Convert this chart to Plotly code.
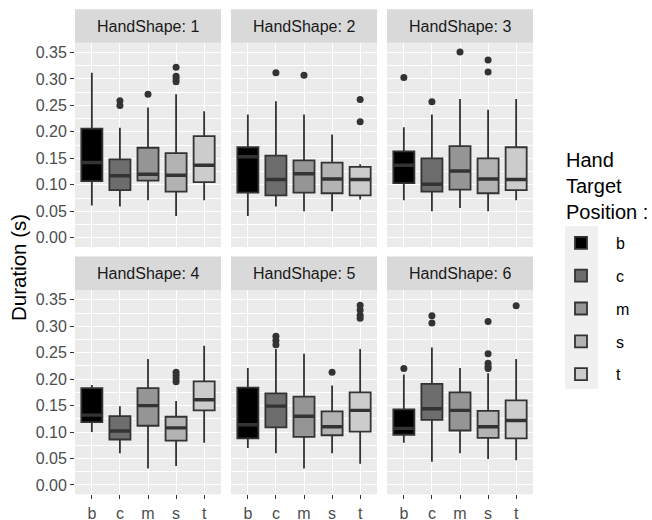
import plotly.graph_objects as go

cats = ["b", "c", "m", "s", "t"]
panels = ["HandShape: 1", "HandShape: 2", "HandShape: 3",
          "HandShape: 4", "HandShape: 5", "HandShape: 6"]
fills = ["#000000", "#6D6D6D", "#959595", "#B3B3B3", "#CCCCCC"]

lowerfence = [
    [0.061, 0.059, 0.071, 0.041, 0.071],
    [0.041, 0.059, 0.050, 0.050, 0.072],
    [0.071, 0.050, 0.056, 0.050, 0.071],
    [0.100, 0.060, 0.031, 0.036, 0.080],
    [0.070, 0.060, 0.031, 0.060, 0.040],
    [0.080, 0.044, 0.060, 0.049, 0.047],
]
q1 = [
    [0.107, 0.090, 0.108, 0.087, 0.105],
    [0.085, 0.080, 0.085, 0.084, 0.080],
    [0.103, 0.087, 0.091, 0.084, 0.090],
    [0.119, 0.086, 0.112, 0.084, 0.141],
    [0.088, 0.109, 0.091, 0.094, 0.101],
    [0.095, 0.123, 0.103, 0.089, 0.088],
]
median = [
    [0.142, 0.117, 0.120, 0.118, 0.137],
    [0.153, 0.110, 0.121, 0.111, 0.110],
    [0.137, 0.101, 0.126, 0.111, 0.110],
    [0.132, 0.102, 0.150, 0.108, 0.161],
    [0.114, 0.149, 0.130, 0.110, 0.141],
    [0.107, 0.144, 0.141, 0.110, 0.122],
]
q3 = [
    [0.206, 0.148, 0.170, 0.160, 0.192],
    [0.171, 0.155, 0.146, 0.142, 0.134],
    [0.163, 0.150, 0.173, 0.150, 0.171],
    [0.183, 0.130, 0.183, 0.129, 0.196],
    [0.184, 0.173, 0.167, 0.139, 0.175],
    [0.143, 0.191, 0.175, 0.140, 0.160],
]
upperfence = [
    [0.312, 0.208, 0.246, 0.271, 0.239],
    [0.233, 0.258, 0.233, 0.195, 0.139],
    [0.209, 0.233, 0.262, 0.242, 0.262],
    [0.189, 0.149, 0.238, 0.159, 0.263],
    [0.221, 0.257, 0.248, 0.188, 0.257],
    [0.209, 0.260, 0.221, 0.211, 0.238],
]
outliers = [
    [[], [0.259, 0.250], [0.271], [0.322, 0.305, 0.300, 0.295], []],
    [[], [0.312], [0.307], [], [0.261, 0.219]],
    [[0.303], [0.257], [0.351], [0.336, 0.313], []],
    [[], [], [], [0.213, 0.207, 0.201, 0.195], []],
    [[], [0.281, 0.273, 0.265], [], [0.213], [0.340, 0.331, 0.321, 0.315]],
    [[0.220], [0.320, 0.306], [], [0.309, 0.248, 0.230, 0.224, 0.220], [0.339]],
]

W, H = 652, 520


def X(px):
    return px / W


def Y(py):
    return 1 - py / H


FONT = "Liberation Sans, Arial, sans-serif"
col_px = [(75, 221), (231, 377), (387, 533)]
row_px = [(42.7, 247.0), (290.0, 494.3)]
strip_h = 33.4
box_w = 0.75

fig = go.Figure()

for p in range(6):
    r, c = divmod(p, 3)
    ax = "" if p == 0 else str(p + 1)
    xa, ya = "x" + ax, "y" + ax
    for i, cat in enumerate(cats):
        fig.add_trace(go.Box(
            x=[i], q1=[q1[p][i]], median=[median[p][i]], q3=[q3[p][i]],
            lowerfence=[lowerfence[p][i]], upperfence=[upperfence[p][i]],
            width=box_w, whiskerwidth=0, boxpoints=False,
            fillcolor=fills[i], line=dict(color="#333333", width=1.8),
            name=cat, legendgroup=cat, showlegend=(p == 0),
            xaxis=xa, yaxis=ya, hoverinfo="skip"))
        # thicker median, as in ggplot
        fig.add_trace(go.Scatter(
            x=[i - box_w / 2 + 0.02, i + box_w / 2 - 0.02],
            y=[median[p][i], median[p][i]], mode="lines",
            line=dict(color="#333333", width=3.4), showlegend=False,
            xaxis=xa, yaxis=ya, hoverinfo="skip"))
        if outliers[p][i]:
            fig.add_trace(go.Scatter(
                x=[i] * len(outliers[p][i]), y=outliers[p][i], mode="markers",
                marker=dict(color="#333333", size=7), showlegend=False,
                xaxis=xa, yaxis=ya, hoverinfo="skip"))

    x0, x1 = col_px[c]
    y0, y1 = row_px[r]
    xdom = [X(x0), X(x1)]
    ydom = [Y(y1), Y(y0)]
    fig.layout["xaxis" + ax] = dict(
        domain=xdom, anchor=ya, range=[-0.6, 4.6], automargin=False,
        tickmode="array", tickvals=list(range(5)), ticktext=cats,
        showticklabels=(r == 1), ticks="outside" if r == 1 else "",
        ticklen=4, tickcolor="#333333", tickwidth=1,
        tickfont=dict(size=16, color="#4d4d4d", family=FONT),
        showgrid=True, gridcolor="white", gridwidth=1.4,
        zeroline=False, showline=False)
    fig.layout["yaxis" + ax] = dict(
        domain=ydom, anchor=xa, range=[-0.0176, 0.3686], automargin=False,
        tick0=0, dtick=0.05, tickformat=".2f",
        showticklabels=(c == 0), ticks="outside" if c == 0 else "",
        ticklen=4, tickcolor="#333333", tickwidth=1,
        tickfont=dict(size=16, color="#4d4d4d", family=FONT),
        showgrid=True, gridcolor="white", gridwidth=1.4,
        minor=dict(dtick=0.025, tick0=0, showgrid=True,
                   gridcolor="white", gridwidth=0.7, ticks=""),
        zeroline=False, showline=False)
    # strip
    fig.add_shape(type="rect", xref="paper", yref="paper",
                  x0=xdom[0], x1=xdom[1], y0=ydom[1], y1=Y(y0 - strip_h),
                  fillcolor="#d9d9d9", line=dict(width=0), layer="below")
    fig.add_annotation(xref="paper", yref="paper",
                       x=(xdom[0] + xdom[1]) / 2, y=Y(y0 - strip_h / 2),
                       text=panels[p], showarrow=False,
                       font=dict(size=16, color="#1a1a1a", family=FONT),
                       xanchor="center", yanchor="middle")

# legend key background (ggplot legend.key)
fig.add_shape(type="rect", xref="paper", yref="paper",
              x0=X(565), x1=X(598), y0=Y(389), y1=Y(226),
              fillcolor="#f0f0f0", line=dict(width=0), layer="below")

# legend title
fig.add_annotation(xref="paper", yref="paper", x=X(564), y=Y(147),
                   text="Hand<br>Target<br>Position :", showarrow=False,
                   align="left", xanchor="left", yanchor="top",
                   font=dict(size=20, color="black", family=FONT))

fig.add_annotation(xref="paper", yref="paper", x=X(18), y=Y(268),
                   text="Duration (s)", textangle=-90, showarrow=False,
                   font=dict(size=20.5, color="black", family=FONT),
                   xanchor="center", yanchor="middle")

fig.update_layout(
    width=W, height=H, margin=dict(l=0, r=0, t=0, b=0, autoexpand=False),
    paper_bgcolor="white", plot_bgcolor="#ebebeb",
    boxmode="overlay", font=dict(family=FONT),
    legend=dict(
        x=X(546), y=Y(226), xanchor="left", yanchor="top",
        itemwidth=60,
        font=dict(size=16, color="black", family=FONT),
        tracegroupgap=9, bgcolor="rgba(0,0,0,0)"),
)

fig.write_html(
    "out.html",
    config={"displayModeBar": False},
    post_script="document.body.style.margin='0px';"
                "document.body.style.overflow='hidden';")
